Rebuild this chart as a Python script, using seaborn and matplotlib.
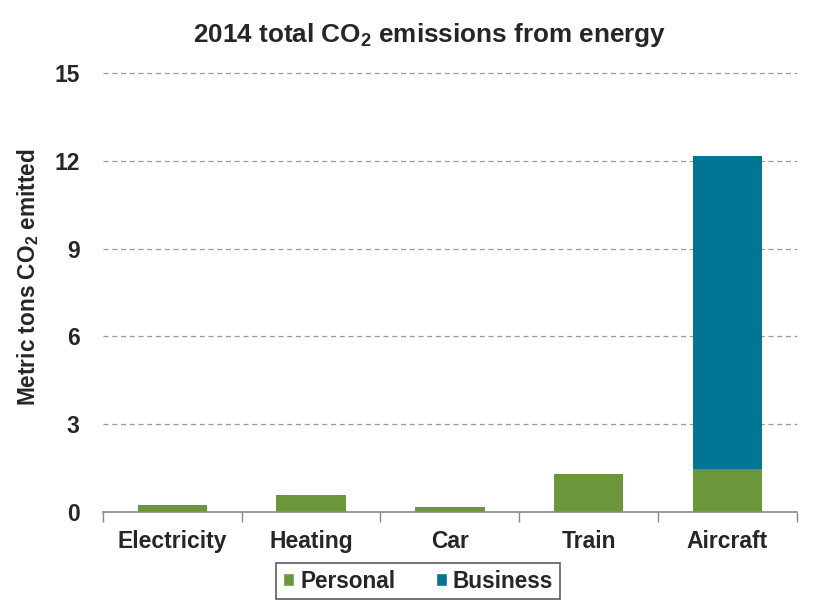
import matplotlib
matplotlib.use("Agg")
import matplotlib.pyplot as plt
import seaborn as sns
import pandas as pd
from matplotlib.patches import Patch

categories = ["Electricity", "Heating", "Car", "Train", "Aircraft"]
personal = [0.24, 0.58, 0.17, 1.30, 1.47]
business = [0.0, 0.0, 0.0, 0.0, 10.68]
yticks = [0, 3, 6, 9, 12, 15]

sns.set_theme(style="white")
plt.rcParams['font.family'] = ['Liberation Sans', 'DejaVu Sans']
plt.rcParams['mathtext.fontset'] = 'custom'
plt.rcParams['mathtext.rm'] = 'Liberation Sans:bold'
plt.rcParams['mathtext.bf'] = 'Liberation Sans:bold'

green = "#6b973a"
teal = "#017694"

df = pd.DataFrame({"cat": categories, "Personal": personal, "Business": business})

fig = plt.figure(figsize=(8.2, 6.12), dpi=100)
ax = fig.add_axes([0.1256, 0.163, 0.846, 0.718])

sns.barplot(data=df, x="cat", y="Personal", color=green, width=0.5, ax=ax,
            saturation=1, edgecolor="none", order=categories)
sns.barplot(data=df, x="cat", y="Business", color=teal, width=0.5, ax=ax,
            saturation=1, edgecolor="none", order=categories, bottom=df["Personal"])

ax.set_ylim(0, 15)
ax.set_xlim(-0.5, 4.5)
ax.set_yticks(yticks)
ax.set_yticklabels([str(v) for v in yticks], fontsize=16.5, fontweight="bold")
ax.set_xticks(range(len(categories)))
ax.set_xticklabels(categories, fontsize=16.5, fontweight="bold")
ax.tick_params(axis="x", which="major", length=0, pad=13)
ax.tick_params(axis="y", length=0, pad=17)
ax.set_xticks([i - 0.5 for i in range(len(categories) + 1)], minor=True)
ax.tick_params(axis="x", which="minor", length=7, color="#888888", width=1, direction="out", bottom=True)

for v in yticks[1:]:
    ax.axhline(v, color="#999999", linestyle=(0, (4, 3)), linewidth=0.9, zorder=0, clip_on=False)

for s in ["top", "right", "left"]:
    ax.spines[s].set_visible(False)
ax.spines["bottom"].set_color("#888888")
ax.spines["bottom"].set_linewidth(1.2)

ax.set_xlabel("")
ax.set_ylabel("Metric tons CO$_{2}$ emitted", fontsize=16.3, fontweight="bold")
ax.yaxis.set_label_coords(-0.089, 0.535)
fig.text(0.524, 0.943, "2014 total CO$_{2}$ emissions from energy", ha="center", va="center",
         fontsize=18.8, fontweight="bold")

handles = [Patch(facecolor=green, label="Personal"), Patch(facecolor=teal, label="Business")]
leg = fig.legend(handles=handles, loc="center", bbox_to_anchor=(0.51, 0.0505), ncol=2,
                 frameon=True, fancybox=False, prop={"weight": "bold", "size": 16.3},
                 handlelength=0.5, handleheight=0.5, handletextpad=0.25, columnspacing=1.8,
                 borderpad=0.3, borderaxespad=0)
leg.get_frame().set_edgecolor("#333333")
leg.get_frame().set_linewidth(1.2)
leg.get_frame().set_boxstyle("square", pad=0)

fig.savefig("out.png", dpi=100, facecolor="white")
